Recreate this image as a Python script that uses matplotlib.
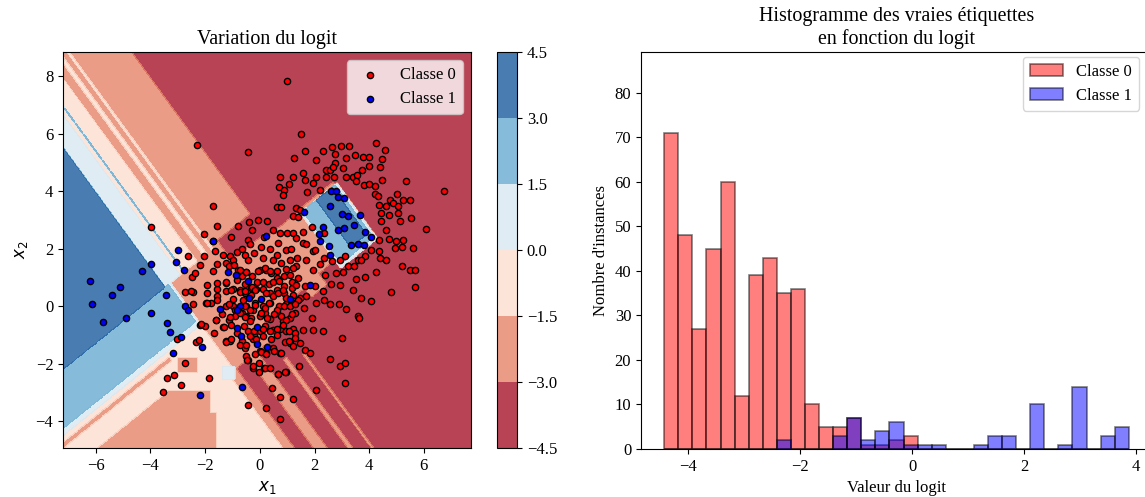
import matplotlib
matplotlib.use('Agg')
import matplotlib.pyplot as plt
import numpy as np

plt.rcParams['font.family'] = 'serif'
plt.rcParams['font.serif'] = ['Liberation Serif', 'DejaVu Serif']
plt.rcParams['font.size'] = 12

# --- points of the two classes (x1, x2) ---
red_pts = np.array([
    (1.0, 7.85), (1.50, 6.0), (-2.31, 5.60), (-0.43, 5.38), (1.25, 5.17), (1.64, 5.41),
    (2.07, 5.09), (2.31, 5.41), (2.65, 5.53), (2.96, 5.58), (3.25, 5.58), (4.26, 5.67),
    (4.56, 5.42), (2.75, 5.29), (3.14, 5.17), (3.47, 5.27), (3.77, 5.19), (3.99, 5.21),
    (4.48, 5.12), (2.74, 4.98), (2.43, 4.75), (2.58, 4.75), (2.68, 4.83), (3.04, 4.80),
    (3.75, 4.75), (4.01, 4.88), (4.38, 4.86), (1.57, 4.65), (2.07, 4.51), (2.43, 4.51),
    (2.70, 4.48), (3.14, 4.48), (3.41, 4.51), (3.56, 4.55), (0.72, 4.51), (1.23, 4.51),
    (1.64, 4.40), (1.95, 4.28), (3.53, 4.36), (3.81, 4.21), (3.99, 4.26), (4.20, 4.17),
    (4.48, 4.38), (5.33, 4.36), (0.69, 4.14), (1.07, 4.26), (0.90, 4.03), (0.83, 3.88),
    (1.73, 3.97), (2.19, 4.05), (4.21, 3.90), (4.32, 3.82), (4.77, 3.70), (5.01, 3.91),
    (5.23, 3.70), (5.50, 3.70), (4.36, 3.51), (4.62, 3.47), (4.87, 3.59), (5.07, 3.47),
    (6.72, 4.02), (-1.73, 3.47), (0.61, 3.44), (0.79, 3.44), (1.31, 3.41), (1.48, 3.36),
    (1.22, 3.13), (1.41, 3.10), (4.44, 3.24), (4.72, 3.16), (5.05, 3.24), (5.51, 3.07),
    (4.42, 2.95), (5.13, 2.95), (6.08, 2.69), (-3.98, 2.74), (-1.58, 2.78), (-0.79, 2.78),
    (-0.40, 2.92), (-0.06, 2.99), (0.27, 2.97), (-0.29, 2.64), (0.15, 2.41), (0.49, 2.64),
    (0.73, 2.55), (1.0, 2.55), (1.22, 2.55), (1.58, 2.57), (1.89, 2.74), (1.31, 2.37),
    (1.58, 2.20), (1.95, 1.91), (2.35, 2.55), (4.62, 2.64), (4.36, 2.29), (4.74, 2.34),
    (4.99, 2.26), (5.23, 2.29), (4.95, 2.03), (5.21, 2.05), (5.60, 2.04), (4.34, 1.91),
    (4.05, 1.94), (3.83, 1.76), (3.58, 1.62), (4.38, 1.66), (4.60, 1.60), (-1.06, 2.40),
    (-2.03, 2.51), (-1.70, 2.28), (-0.43, 2.30), (-0.36, 2.18), (0.06, 2.06), (0.36, 1.99),
    (0.67, 2.20), (0.97, 1.97), (1.13, 2.0), (1.36, 1.68), (1.68, 2.18), (2.01, 1.94),
    (2.35, 1.68), (2.65, 1.56), (2.92, 1.59), (3.10, 1.74), (3.22, 1.39), (3.43, 1.39),
    (3.71, 1.62), (5.50, 1.27), (-2.62, 1.76), (-2.04, 1.74), (-1.64, 1.91), (-1.34, 1.79),
    (-1.09, 1.74), (-0.85, 1.89), (-0.67, 2.0), (-0.55, 1.77), (-0.43, 1.62), (-0.21, 1.85),
    (0.12, 1.67), (0.49, 1.60), (0.61, 1.79), (0.79, 1.50), (1.09, 1.62), (1.34, 1.39),
    (1.70, 1.59), (1.95, 1.27), (2.19, 1.48), (2.37, 1.10), (2.77, 1.16), (3.04, 1.19),
    (3.53, 0.95), (3.83, 1.01), (4.23, 1.18), (5.21, 1.41), (5.66, 1.27), (5.69, 0.67),
    (4.78, 0.49), (-2.49, 1.01), (-2.37, 1.16), (-2.19, 1.42), (-1.73, 1.23), (-1.58, 1.45),
    (-1.24, 1.50), (-1.0, 1.60), (-0.79, 1.27), (-0.67, 1.04), (-0.49, 1.18), (-0.27, 1.04),
    (0.0, 1.27), (0.22, 1.27), (0.39, 1.16), (0.61, 0.98), (0.88, 1.04), (1.09, 1.10),
    (1.40, 0.98), (1.64, 0.69), (2.01, 0.69), (2.31, 0.52), (2.62, 0.78), (2.92, 0.75),
    (3.41, 0.56), (3.71, 0.29), (4.08, 0.17), (-2.74, 0.50), (-2.46, 0.50), (-1.95, 0.44),
    (-1.58, 0.58), (-1.22, 0.81), (-0.97, 0.58), (-0.73, 0.56), (-0.55, 0.46), (-0.32, 0.64),
    (-0.15, 0.60), (0.12, 0.60), (0.36, 0.46), (0.61, 0.56), (0.88, 0.46), (1.16, 0.63),
    (1.46, 0.29), (1.70, 0.35), (2.07, 0.12), (2.34, 0.23), (2.55, 0.06), (2.90, 0.08),
    (3.14, -0.09), (3.59, -0.35), (3.63, -0.41), (-2.43, 0.08), (-1.98, 0.12), (-1.80, 0.12),
    (-1.58, 0.35), (-1.22, 0.0), (-0.97, 0.0), (-0.91, -0.12), (-0.61, 0.23), (-0.49, 0.0),
    (-0.18, 0.12), (0.12, 0.0), (0.36, 0.12), (0.69, 0.0), (0.97, 0.06), (1.22, 0.12),
    (1.62, -0.06), (1.89, -0.41), (-2.19, -0.64), (-2.01, -0.69), (-1.61, -0.50), (-1.34, -0.73),
    (-1.12, -0.49), (-0.91, -0.35), (-0.67, -0.23), (-0.49, -0.35), (-0.24, -0.12), (0.0, -0.35),
    (0.18, -0.23), (0.36, -0.46), (0.61, -0.23), (0.83, -0.52), (1.09, -0.41), (1.28, -0.23),
    (-3.04, -1.16), (-2.34, -1.24), (-2.24, -1.18), (-1.67, -0.93), (-1.24, -1.22), (-1.09, -1.22),
    (-0.85, -0.93), (-0.67, -1.22), (-0.43, -0.87), (-0.21, -1.02), (0.0, -0.87), (0.18, -0.69),
    (0.49, -0.84), (0.73, -0.81), (0.97, -0.87), (1.22, -0.81), (1.58, -0.84), (1.95, -0.83),
    (2.31, -0.87), (3.02, -1.10), (-0.55, -1.45), (-0.24, -1.16), (0.0, -1.56), (0.24, -1.62),
    (0.49, -1.45), (0.73, -1.62), (1.09, -1.27), (1.46, -1.30), (1.64, -1.53), (1.85, -1.62),
    (-2.74, -1.97), (-0.45, -1.89), (-0.24, -2.14), (-0.02, -2.29), (0.15, -2.14), (0.67, -2.37),
    (0.95, -2.29), (1.42, -2.08), (2.55, -1.85), (2.92, -2.08), (3.10, -1.97), (-3.41, -2.51),
    (-3.14, -2.41), (-2.87, -2.74), (-3.53, -2.99), (-1.86, -2.49), (0.45, -2.86), (0.73, -3.16),
    (1.22, -3.24), (2.07, -2.92), (3.10, -2.69), (-0.43, -3.45), (0.21, -3.56), (0.73, -3.94),
    # dense core
    (-1.12, 1.39), (-0.94, 1.42), (-0.73, 1.25), (-0.52, 1.20), (-0.06, 1.23), (0.18, 1.33),
    (0.36, 1.23), (0.61, 1.23), (0.97, 1.29), (1.22, 1.33), (-1.92, 0.75), (-1.56, 0.81),
    (-1.24, 0.84), (-0.85, 0.92), (-0.55, 0.77), (-0.30, 0.67), (-0.12, 0.84), (0.10, 0.83),
    (0.32, 0.78), (0.49, 0.84), (0.69, 0.86), (0.89, 0.71), (1.16, 0.83), (1.34, 0.74),
    (-2.52, 0.52), (-1.24, 0.52), (-1.04, 0.55), (-0.73, 0.48), (-0.56, 0.52), (-0.34, 0.40),
    (-0.16, 0.57), (0.24, 0.46), (0.49, 0.34), (0.67, 0.44), (0.85, 0.57), (0.97, 0.29),
    (1.22, 0.40), (1.40, 0.23), (-1.92, 0.11), (-1.56, 0.23), (-1.14, 0.08), (-0.97, 0.25),
    (-0.55, 0.0), (-0.37, -0.12), (-0.18, 0.05), (0.18, -0.06), (0.34, 0.11), (0.61, -0.12),
    (0.88, 0.02), (1.09, 0.02), (1.30, 0.09), (-1.61, -0.47), (-1.40, -0.29), (-1.10, -0.39),
    (-0.73, -0.24), (-0.55, -0.37), (-0.33, -0.41), (0.06, -0.24), (0.27, -0.41), (0.51, -0.29),
    (0.77, -0.35), (0.97, -0.47), (1.18, -0.29), (-2.15, -0.62), (-1.30, -0.73), (-1.04, -0.64),
    (-0.58, -0.68), (-0.37, -0.52), (-0.22, -0.87), (0.12, -0.81), (0.36, -0.87), (0.61, -0.79),
    (0.85, -0.64), (1.07, -0.87), (1.30, -0.93), (-1.22, -1.25), (-1.04, -1.16), (-0.73, -1.37),
    (-0.49, -1.37), (-0.37, -1.05), (-0.15, -1.16), (0.12, -1.05), (0.39, -1.16), (0.63, -1.02),
    (0.91, -1.25), (1.07, -1.22), (1.29, -1.10), (-0.49, -1.72), (-0.18, -1.68), (0.06, -1.60),
    (0.24, -1.65), (0.51, -1.57), (0.79, -1.62), (1.22, -1.39), (-0.46, -1.89), (-0.02, -1.97),
    (-0.24, -2.09), (0.18, -2.14), (0.36, -2.14), (0.67, -2.38), (0.91, -2.28),
])

blue_pts = np.array([
    (-6.2, 0.89), (-6.13, 0.07), (-5.75, -0.54), (-5.39, 0.39), (-5.10, 0.68), (-4.90, -0.42),
    (-4.31, 1.24), (-3.99, 1.47), (-3.98, -0.24), (-3.43, 0.39), (-3.38, -0.58), (-3.29, -0.91),
    (-3.18, -1.63), (-2.98, 1.97), (-3.08, 1.52), (-2.77, 1.27), (-2.73, 0.02), (-2.64, -0.13),
    (-2.90, -1.08), (-2.13, -1.41), (-2.19, -3.08), (-0.67, -2.81), (-1.70, 2.27), (-1.16, 1.18),
    (-0.89, 1.09), (-0.43, 0.87), (-0.39, 0.28), (-1.46, -0.09), (-0.73, 0.0), (-0.85, -0.77),
    (-0.69, -1.04), (-0.12, -0.72), (-0.09, -1.33), (0.05, 0.24), (0.27, -1.41), (1.09, 0.24),
    (1.85, 0.72), (0.21, 2.43), (1.63, 3.29), (-0.85, -0.15),
    (2.62, 4.02), (2.77, 4.0), (2.86, 3.79), (3.09, 3.76), (2.58, 3.47), (3.0, 3.22),
    (3.22, 3.15), (3.65, 3.17), (3.44, 2.83), (3.83, 2.57), (4.08, 2.40), (2.87, 2.64),
    (3.07, 2.72), (2.32, 2.77), (2.15, 2.52), (2.21, 2.28), (2.54, 2.08), (2.58, 1.77),
    (3.32, 2.12), (3.6, 2.18), (3.81, 2.13),
])

# --- logit map: piecewise-constant plateaus ---
# rotated coordinates p, q (angle in degrees) used by most of the splits
split_angle = 37.5
# (p_lo, p_hi, q_lo, q_hi, logit), painted in this order
pq_regions = [
    (-99, 1.67, 2.63, 99, -2.25),
    (-99, -0.88, 2.63, 99, -0.75),
    (-0.56, -0.42, 2.63, 99, -0.75),
    (-0.22, -0.14, 2.63, 99, -0.75),
    (-99, -1.65, 2.63, 99, 0.75),
    (-1.50, -1.46, 2.63, 99, 2.25),
    (-99, -2.35, 2.63, 99, 3.75),
    (-99, -2.2, 1.0, 2.63, 2.25),
    (-2.2, -2.1, 1.0, 2.63, 0.75),
    (-99, -2.1, -99, 1.0, -0.75),
    (-99, -2.2, 0.8, 1.0, 0.75),
    (-99, -3.7, 0.45, 0.62, -2.25),
    (-2.1, 1.67, -1.2, 2.63, -2.25),
    (1.67, 3.25, -0.4, 1.75, -2.25),
    (1.67, 2.4, -0.9, -0.4, -2.25),
    (0.15, 2.0, 1.9, 2.77, -3.75),
    (-0.2, 1.67, -1.2, -0.5, -3.75),
    (3.15, 4.85, -0.75, 1.68, 0.75),
    (3.25, 4.75, 1.68, 1.8, -2.25),
    (3.25, 4.75, -0.63, 1.68, 2.25),
    (3.88, 4.62, -0.4, 1.68, 3.75),
    (-2.35, -2.0, -99, -1.2, -2.25),
    (-1.45, -1.05, -99, -1.2, -2.25),
    (-0.46, -0.30, -99, -2.0, -2.25),
    (0.22, 0.30, -99, -2.3, -2.25),
]
# axis-aligned plateaus: (x_lo, x_hi, y_lo, y_hi, q_max, logit)
xy_regions = [
    (-99, -1.82, -99, -2.95, -0.3, -2.25),
    (-99, -1.58, -99, -3.70, -0.3, -2.25),
    (-3.0, -2.25, -2.3, -1.8, 99, -2.25),
    (-1.35, -0.9, -2.55, -2.1, 99, 0.75),
]
base_logit = -3.75

# --- histogram of the logit, per true label ---
bin_start, bin_width = -4.43, 0.2515
counts_0 = [71, 48, 27, 45, 60, 12, 39, 43, 35, 36, 10, 5, 5, 7, 1, 1, 2, 3,
            0, 0, 0, 0, 0, 0, 0, 0, 0, 0, 0, 0, 0, 0, 0]
counts_1 = [0, 0, 0, 0, 0, 0, 0, 0, 2, 0, 0, 0, 3, 7, 2, 4, 6, 1,
            1, 1, 0, 0, 1, 3, 3, 0, 10, 0, 1, 14, 0, 3, 5]

all_pts = np.vstack([red_pts, blue_pts])
x_min, x_max = all_pts[:, 0].min() - 1, all_pts[:, 0].max() + 1
y_min, y_max = all_pts[:, 1].min() - 1, all_pts[:, 1].max() + 1
h = 0.03
xx, yy = np.meshgrid(np.arange(x_min, x_max, h), np.arange(y_min, y_max, h))
a = np.deg2rad(split_angle)
pp = xx * np.cos(a) + yy * np.sin(a)
qq = -xx * np.sin(a) + yy * np.cos(a)

zz = np.full(xx.shape, base_logit)
for p_lo, p_hi, q_lo, q_hi, val in pq_regions:
    zz[(pp >= p_lo) & (pp < p_hi) & (qq >= q_lo) & (qq < q_hi)] = val
for x_lo, x_hi, y_lo, y_hi, q_max, val in xy_regions:
    zz[(xx >= x_lo) & (xx < x_hi) & (yy >= y_lo) & (yy < y_hi) & (qq < q_max)] = val

fig = plt.figure(figsize=(11.45, 4.97), dpi=100)
ax1 = fig.add_axes([0.055, 0.0986, 0.3563, 0.7968])
cax = fig.add_axes([0.434, 0.0986, 0.0175, 0.7968])
ax2 = fig.add_axes([0.5598, 0.0966, 0.4463, 0.7988])

levels = np.arange(-4.5, 4.6, 1.5)
cs = ax1.contourf(xx, yy, zz, levels=levels, cmap=plt.cm.RdBu, alpha=0.8)
ax1.scatter(red_pts[:, 0], red_pts[:, 1], c='r', s=20, edgecolors='k', label='Classe 0')
ax1.scatter(blue_pts[:, 0], blue_pts[:, 1], c='b', s=20, edgecolors='k', label='Classe 1')
ax1.set_xlim(x_min, x_max)
ax1.set_ylim(y_min, y_max)
ax1.set_xlabel('$x_1$')
ax1.set_ylabel('$x_2$')
ax1.set_title('Variation du logit')
ax1.legend(loc='upper right')
fig.colorbar(cs, cax=cax)

edges = bin_start + bin_width * np.arange(len(counts_0) + 1)
ax2.bar(edges[:-1], counts_0, width=bin_width, align='edge', color='r', alpha=0.5,
        edgecolor='k', linewidth=1.2, label='Classe 0')
ax2.bar(edges[:-1], counts_1, width=bin_width, align='edge', color='b', alpha=0.5,
        edgecolor='k', linewidth=1.2, label='Classe 1')
ax2.set_ylim(0, 89.2)
ax2.set_xlabel('Valeur du logit')
ax2.set_ylabel("Nombre d'instances")
ax2.set_title('Histogramme des vraies étiquettes\nen fonction du logit')
ax2.legend(loc='upper right', bbox_to_anchor=(1139 / 1145, 1 - 57 / 497),
           bbox_transform=fig.transFigure, borderaxespad=0)

fig.savefig('out.png', dpi=100)
